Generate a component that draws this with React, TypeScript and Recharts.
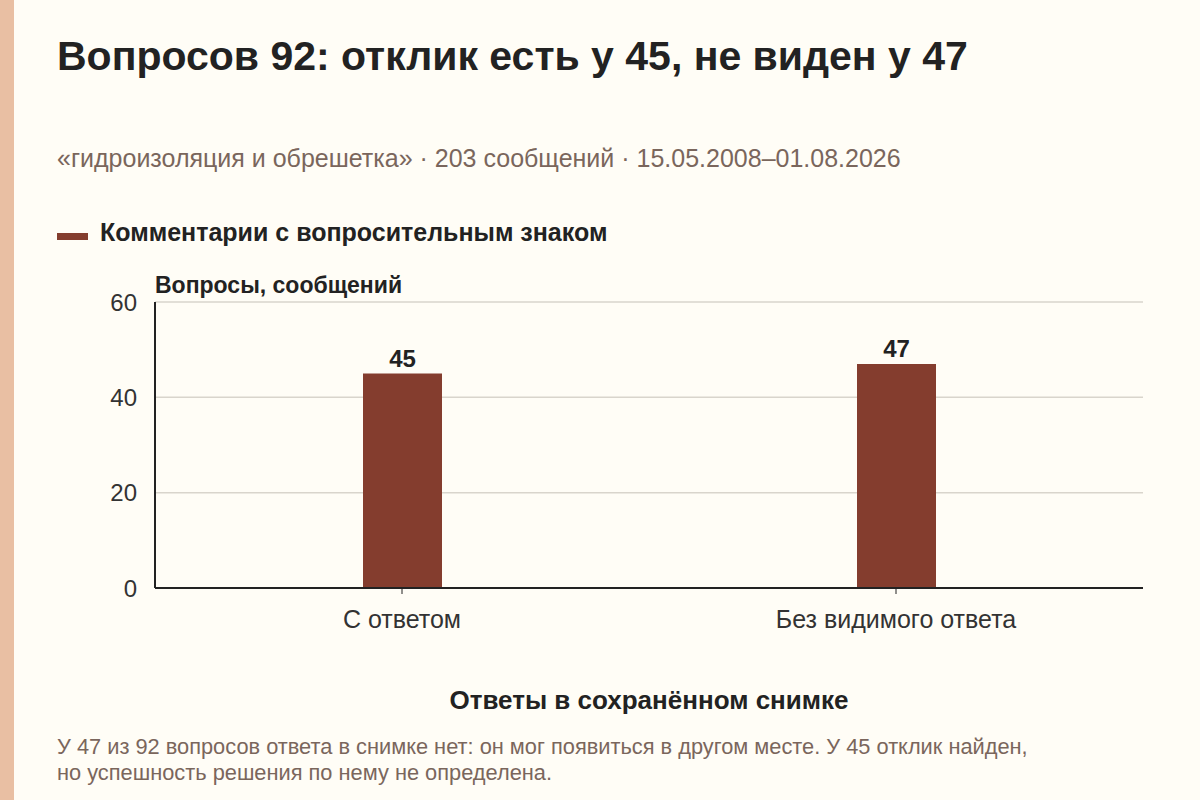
import React from 'react';
import { BarChart, Bar, XAxis, YAxis, CartesianGrid, LabelList } from 'recharts';

const categories = ['С ответом', 'Без видимого ответа'];
const questionCounts = [45, 47];
const yTicks = [0, 20, 40, 60];

const title = 'Вопросов 92: отклик есть у 45, не виден у 47';
const subtitle = '«гидроизоляция и обрешетка» · 203 сообщений · 15.05.2008–01.08.2026';
const seriesName = 'Комментарии с вопросительным знаком';
const yAxisTitle = 'Вопросы, сообщений';
const xAxisTitle = 'Ответы в сохранённом снимке';
const noteLines = [
  'У 47 из 92 вопросов ответа в снимке нет: он мог появиться в другом месте. У 45 отклик найден,',
  'но успешность решения по нему не определена.',
];

const data = categories.map((c, i) => ({ category: c, value: questionCounts[i] }));

const FONT = '"Liberation Sans", Arial, Helvetica, sans-serif';
const BAR = '#843d2e';
const DARK = '#222222';
const MUTED = '#7a665c';

export default function App() {
  return (
    <div
      style={{
        position: 'absolute',
        left: 0,
        top: 0,
        width: 1200,
        height: 800,
        background: '#fffdf6',
        fontFamily: FONT,
        overflow: 'hidden',
      }}
    >
      <div style={{ position: 'absolute', left: 0, top: 0, width: 14, height: 800, background: '#e9bfa3' }} />
      <div
        style={{
          position: 'absolute',
          left: 57,
          top: 32,
          fontSize: 41,
          fontWeight: 700,
          color: DARK,
          whiteSpace: 'nowrap',
          lineHeight: '48px',
        }}
      >
        {title}
      </div>
      <div
        style={{
          position: 'absolute',
          left: 57,
          top: 142,
          fontSize: 25,
          color: MUTED,
          whiteSpace: 'nowrap',
          lineHeight: '32px',
        }}
      >
        {subtitle}
      </div>
      <div style={{ position: 'absolute', left: 57, top: 233, width: 31, height: 7, background: BAR }} />
      <div
        style={{
          position: 'absolute',
          left: 100,
          top: 216,
          fontSize: 25,
          fontWeight: 700,
          color: DARK,
          whiteSpace: 'nowrap',
          lineHeight: '32px',
        }}
      >
        {seriesName}
      </div>
      <div
        style={{
          position: 'absolute',
          left: 155,
          top: 270,
          fontSize: 23,
          fontWeight: 700,
          color: DARK,
          whiteSpace: 'nowrap',
          lineHeight: '30px',
        }}
      >
        {yAxisTitle}
      </div>
      <div style={{ position: 'absolute', left: 0, top: 0 }}>
        <BarChart
          width={1200}
          height={800}
          data={data}
          margin={{ top: 302, right: 57, bottom: 172, left: 95 }}
        >
          <CartesianGrid vertical={false} stroke="#d9d5cc" strokeWidth={1.5} />
          <XAxis
            dataKey="category"
            axisLine={{ stroke: DARK, strokeWidth: 2 }}
            tickLine={{ stroke: DARK }}
            tickSize={6}
            tickMargin={16}
            height={40}
            tick={{ fontSize: 25, fill: '#333333', fontFamily: FONT }}
            interval={0}
          />
          <YAxis
            domain={[0, 60]}
            ticks={yTicks}
            width={60}
            axisLine={{ stroke: DARK, strokeWidth: 2 }}
            tickLine={false}
            tickMargin={12}
            tick={{ fontSize: 24, fill: '#333333', fontFamily: FONT }}
          />
          <Bar dataKey="value" fill={BAR} barSize={79} isAnimationActive={false}>
            <LabelList
              dataKey="value"
              position="top"
              offset={7}
              style={{ fontSize: 24, fontWeight: 700, fill: DARK, fontFamily: FONT }}
            />
          </Bar>
        </BarChart>
      </div>
      <div
        style={{
          position: 'absolute',
          left: 155,
          width: 988,
          top: 683,
          textAlign: 'center',
          fontSize: 26,
          fontWeight: 700,
          color: DARK,
          lineHeight: '34px',
        }}
      >
        {xAxisTitle}
      </div>
      <div
        style={{
          position: 'absolute',
          left: 57,
          top: 734,
          fontSize: 21.8,
          color: MUTED,
          lineHeight: '26px',
          whiteSpace: 'nowrap',
        }}
      >
        {noteLines.map((l, i) => (
          <div key={i}>{l}</div>
        ))}
      </div>
    </div>
  );
}
